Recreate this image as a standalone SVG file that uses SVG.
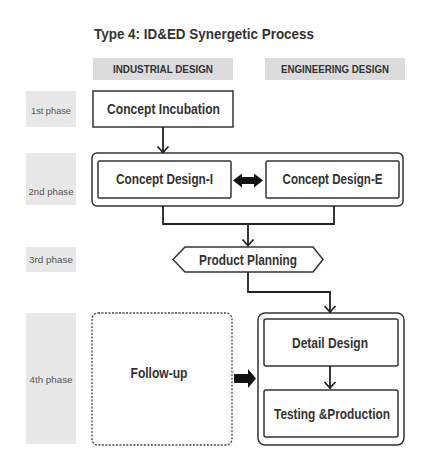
<svg xmlns="http://www.w3.org/2000/svg" width="434" height="470" viewBox="0 0 434 470">
<defs>
<style>
.t{font-family:"Liberation Sans",Arial,sans-serif;font-weight:bold;fill:#333;text-anchor:middle}
.ph{font-family:"Liberation Sans",Arial,sans-serif;font-size:9px;fill:#555;text-anchor:middle}
.hd{font-family:"Liberation Sans",Arial,sans-serif;font-weight:bold;font-size:10.5px;fill:#333;text-anchor:middle}
.box{fill:#fff;stroke:#333;stroke-width:1.5}
.gray{fill:#dcdcdc}
.lgray{fill:#e8e8e8}
.ln{fill:none;stroke:#222;stroke-width:1.8}
</style>
</defs>
<rect width="434" height="470" fill="#fff"/>
<text class="t" x="204" y="39" font-size="15" textLength="220" lengthAdjust="spacingAndGlyphs">Type 4: ID&amp;ED Synergetic Process</text>

<g id="hdr-id"><rect class="gray" x="93" y="58" width="140" height="22"/><text class="hd" x="163" y="73" textLength="100" lengthAdjust="spacingAndGlyphs">INDUSTRIAL DESIGN</text></g>
<g id="hdr-ed"><rect class="gray" x="265" y="58" width="140" height="22"/><text class="hd" x="335" y="73" textLength="108" lengthAdjust="spacingAndGlyphs">ENGINEERING DESIGN</text></g>

<g id="ph1"><rect class="lgray" x="26" y="91" width="50" height="36"/><text class="ph" x="51" y="114" textLength="40" lengthAdjust="spacingAndGlyphs">1st phase</text></g>
<g id="ph2"><rect class="lgray" x="26" y="153" width="50" height="52"/><text class="ph" x="51" y="195" textLength="45" lengthAdjust="spacingAndGlyphs">2nd phase</text></g>
<g id="ph3"><rect class="lgray" x="26" y="247" width="50" height="25"/><text class="ph" x="51" y="263" textLength="44" lengthAdjust="spacingAndGlyphs">3rd phase</text></g>
<g id="ph4"><rect class="lgray" x="26" y="313" width="50" height="131"/><text class="ph" x="51" y="383" textLength="43" lengthAdjust="spacingAndGlyphs">4th phase</text></g>

<g id="concept-incubation"><rect class="box" x="93" y="91" width="140" height="36"/><text class="t" x="163.5" y="114" font-size="14" textLength="113" lengthAdjust="spacingAndGlyphs">Concept Incubation</text></g>

<g id="phase2-group"><rect class="box" x="92" y="153" width="311" height="53" rx="5"/></g>
<g id="concept-design-i"><rect class="box" x="98" y="161" width="133" height="37" rx="1.5"/><text class="t" x="164.5" y="184" font-size="14" textLength="97" lengthAdjust="spacingAndGlyphs">Concept Design-I</text></g>
<g id="concept-design-e"><rect class="box" x="266" y="161" width="133" height="37" rx="1.5"/><text class="t" x="332.5" y="184" font-size="14" textLength="100" lengthAdjust="spacingAndGlyphs">Concept Design-E</text></g>

<g id="product-planning"><polygon class="box" points="173,259.5 185,247 313,247 323,259.5 313,272 185,272"/><text class="t" x="248" y="264.5" font-size="14" textLength="98" lengthAdjust="spacingAndGlyphs">Product Planning</text></g>

<g id="follow-up"><rect x="92" y="313" width="140" height="132" rx="6" fill="#fff" stroke="#444" stroke-width="1.3" stroke-dasharray="2,1.5"/><text class="t" x="159" y="378" font-size="14" textLength="57" lengthAdjust="spacingAndGlyphs">Follow-up</text></g>

<g id="phase4-group"><rect class="box" x="258" y="313" width="146" height="132" rx="7"/></g>
<g id="detail-design"><rect class="box" x="264" y="319" width="134" height="47" rx="2"/><text class="t" x="330" y="347.5" font-size="14" textLength="76" lengthAdjust="spacingAndGlyphs">Detail Design</text></g>
<g id="testing-production"><rect class="box" x="264" y="390" width="134" height="47" rx="2"/><text class="t" x="332" y="419" font-size="14" textLength="116" lengthAdjust="spacingAndGlyphs">Testing &amp;Production</text></g>

<g id="connectors">
<path class="ln" d="M163,127 V153"/>
<path class="ln" d="M157.5,146.5 L163,152.5 L168.5,146.5"/>
<path class="ln" d="M163,206 V224 H334 V206"/>
<path class="ln" d="M248,224 V246"/>
<path class="ln" d="M242.5,239.5 L248,245.5 L253.5,239.5"/>
<path class="ln" d="M248,272 V292 H330 V313"/>
<path class="ln" d="M324.5,306 L330,312 L335.5,306"/>
<path class="ln" d="M330,366 V389"/>
<path class="ln" d="M324.5,382 L330,388 L335.5,382"/>
<polygon fill="#111" points="233,180.5 242,173.5 242,177 254,177 254,173.5 263,180.5 254,187.5 254,184 242,184 242,187.5"/>
<polygon fill="#111" points="234,374 248,374 248,369 256,378.5 248,388 248,383 234,383"/>
</g>
</svg>
